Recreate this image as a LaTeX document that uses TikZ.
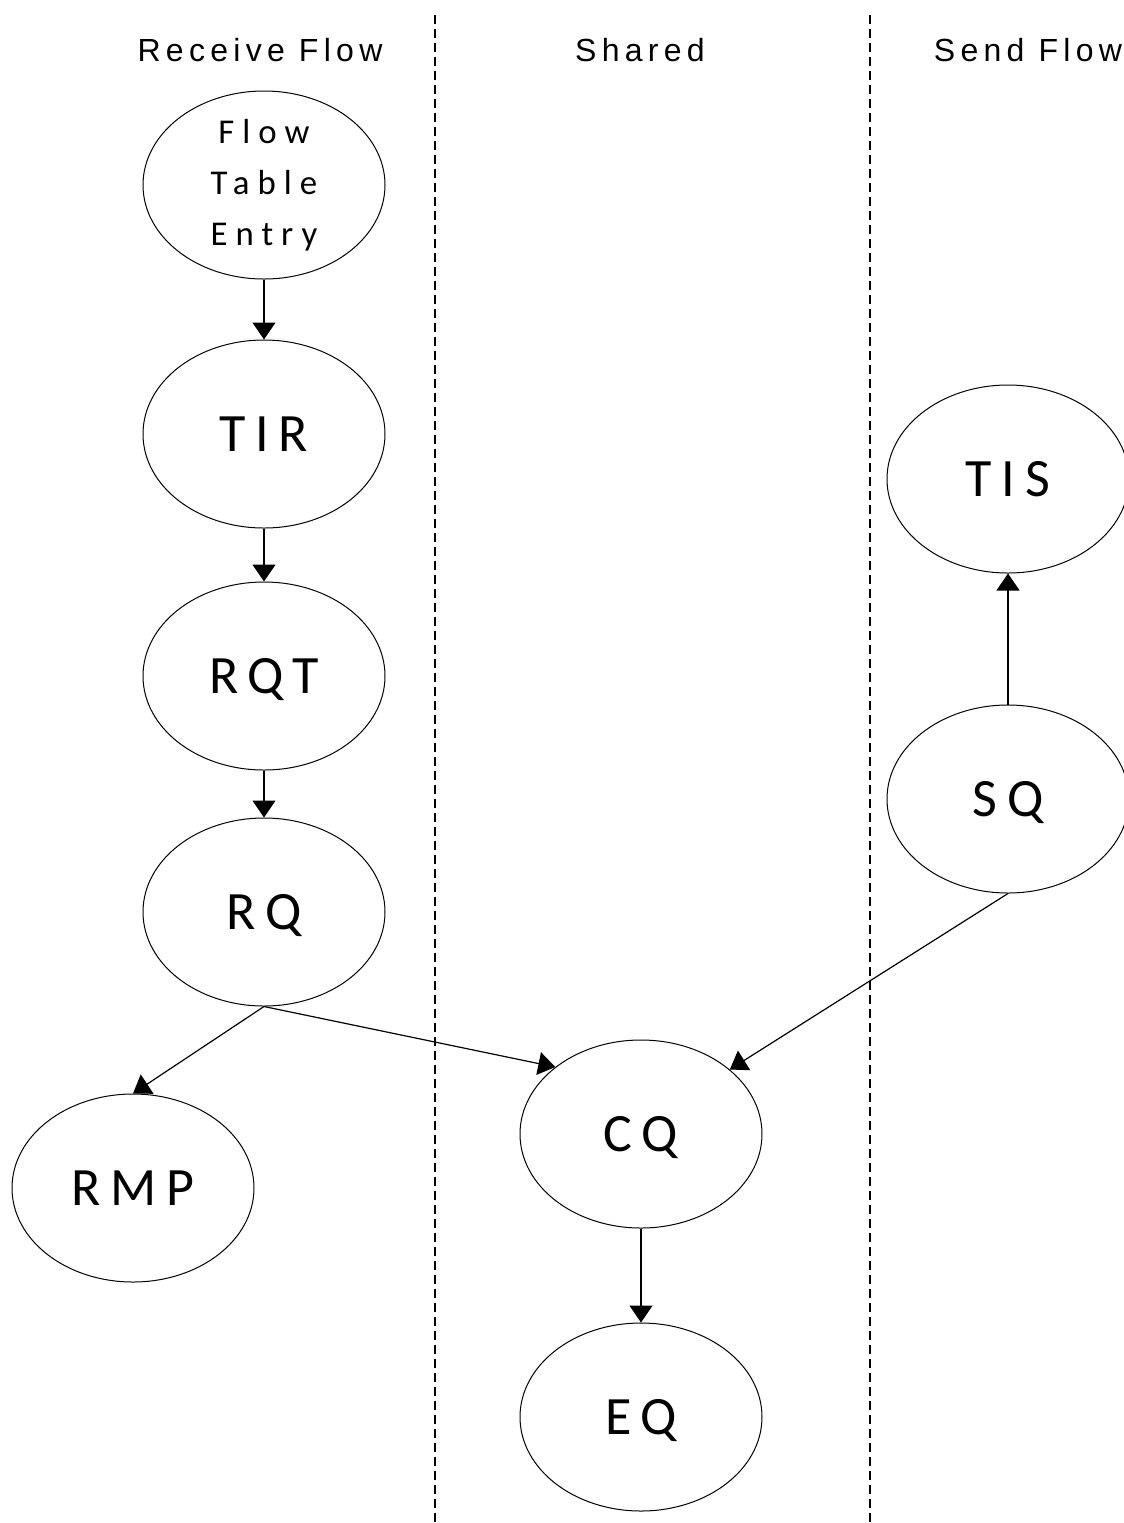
\documentclass[tikz,border=0pt]{standalone}
\usepackage{fontspec}
\setmainfont{Liberation Sans}
\newfontfamily\headfont[LetterSpace=16.5]{Liberation Sans}
\newfontfamily\labfont[LetterSpace=18]{Carlito}
\newfontfamily\ftefont[LetterSpace=23]{Carlito}
\usetikzlibrary{shapes.geometric,arrows.meta}
\begin{document}
\begin{tikzpicture}[x=0.5pt,y=-0.5pt,
  qnode/.style={draw=black, line width=0.5pt, ellipse, minimum width=121pt, minimum height=94pt,
    inner sep=0pt, font=\labfont\fontsize{27}{30}\selectfont, text height=17.1pt, text depth=0pt},
  ftenode/.style={draw=black, line width=0.5pt, ellipse, minimum width=121pt, minimum height=94pt,
    inner sep=0pt, align=center, font=\ftefont\fontsize{17.4}{25.5}\selectfont},
  head/.style={anchor=base, inner sep=0pt, font=\headfont\fontsize{16}{19}\selectfont},
  link/.style={line width=0.6pt, -{Triangle[length=8.5pt, width=11.5pt]}},
  lane/.style={line width=0.6pt, dash pattern=on 4.5pt off 2.5pt}]
\useasboundingbox (0,0) rectangle (1124,1523);
% lane separators
\coordinate (l1t) at (435,15);
\coordinate (l1b) at (435,1523);
\coordinate (l2t) at (870,15);
\coordinate (l2b) at (870,1523);
\draw[lane] (l1t) -- (l1b);
\draw[lane] (l2t) -- (l2b);
% headings
\node[head] (hr) at (260,61) {Receive Flow};
\node[head] (hs) at (640,61) {Shared};
\node[head] (hf) at (1028,61) {Send Flow};
% nodes
\node[ftenode] (fte) at (264,185) {Flow\\Table\\Entry};
\node[qnode] (tir) at (264,434) {TIR};
\node[qnode] (rqt) at (264,676) {RQT};
\node[qnode] (rq) at (264,912) {RQ};
\node[qnode] (rmp) at (133,1188) {RMP};
\node[qnode] (cq) at (641,1134) {CQ};
\node[qnode] (eq) at (641,1417) {EQ};
\node[qnode] (tis) at (1008,479) {TIS};
\node[qnode] (sq) at (1008,799) {SQ};
% connectors
\draw[link] (fte.south) -- (tir.north);
\draw[link] (tir.south) -- (rqt.north);
\draw[link] (rqt.south) -- (rq.north);
\draw[link] (rq.south) -- (rmp.north);
\draw[link] (rq.south) -- (cq.142);
\draw[link] (sq.south) -- (cq.36);
\draw[link] (sq.north) -- (tis.south);
\draw[link] (cq.south) -- (eq.north);
\end{tikzpicture}
\end{document}
